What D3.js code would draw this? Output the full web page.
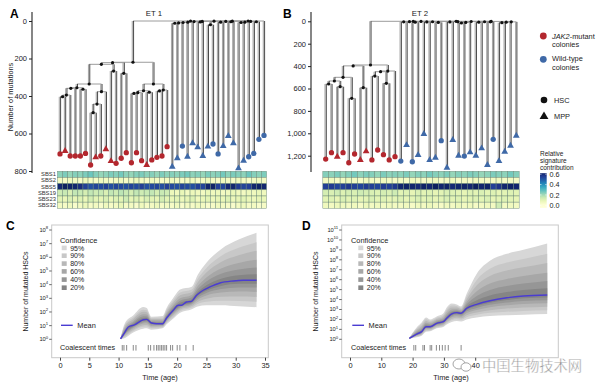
<!DOCTYPE html>
<html><head><meta charset="utf-8">
<script src="https://cdn.jsdelivr.net/npm/d3@7"></script>
<style>body{margin:0;background:#fff}svg{display:block;font-family:"Liberation Sans",Arial,Helvetica,sans-serif}</style>
</head><body><svg id="c" width="601" height="391"></svg>
<script>
// ---------------- DATA ----------------
// Tree ET1: internal nodes [id, parent, number of mutations]
const treeA_internal = [
 ["r",null,0],["J","r",220],["bR","r",0],
 ["A1","J",222],["B","J",336],
 ["A2","A1",231],["n1213","A1",279],
 ["C","A2",336],["n1011","A2",267],
 ["L","C",356],["R","C",377],
 ["L1","L",359],["L2","L",364],
 ["L11","L1",395],["L111","L11",404],
 ["R1","R",443],["R11","R1",489],
 ["B1","B",372],["B2","B",368],
 ["B11","B1",382],["B111","B11",386],["B12","B1",380],
 ["B21","B2",373],
 ["q","bR",1],["l","q",1],["p","q",2],
 ["h","l",2],["k","l",2],
 ["f","h",3],["g","h",20],
 ["d","f",6],["e","f",5],
 ["c","d",8],["b","c",10],["a","b",12],
 ["i","k",6],["j","k",4],
 ["n","p",6],["m","n",8],["o","p",4]
];
const treeA_tipParent = [
 "L111","L111","L11","L1","L2","L2","R11","R11","R1","R","n1011","n1011","n1213","n1213",
 "B111","B111","B11","B12","B12","B21","B21","B2",
 "a","a","b","c","d","e","e","g","g","i","i","j","j","m","m","n","o","o","bR"];
const treeA_tipMut = [709,693,720,720,720,706,768,727,720,684,747,759,732,702,756,702,745,768,741,727,720,670,
 777,732,667,724,652,674,720,670,656,709,667,613,652,786,745,724,706,631,610];
const treeA_tipCell = ["HSC","MPP","HSC","HSC","HSC","HSC","HSC","MPP","HSC","MPP","MPP","HSC","HSC","HSC","HSC","HSC","HSC","MPP","HSC","HSC","HSC","HSC",
 "MPP","MPP","HSC","MPP","MPP","MPP","MPP","MPP","HSC","HSC","MPP","MPP","MPP","MPP","MPP","HSC","HSC","HSC","HSC"];
const treeA_nJAK2 = 22;

// Tree ET2
const treeB_internal = [
 ["r",null,0],["R0","r",390],["W","r",0],
 ["Lf","R0",398],["Rt","R0",444],
 ["LL","Lf",500],["n67","Lf",593],
 ["LL1","LL",533],["n45","LL",688],
 ["n01","LL1",560],["n23","LL1",584],
 ["Rt1","Rt",450],["n89","Rt1",489],["n1011","Rt1",554],
 ["g","W",1],["s","W",1],
 ["c","g",3],["f","g",4],
 ["a","c",5],["b","c",8],["d","f",6],["e","f",10],
 ["o","s",2],["rr","s",5],
 ["k","o",3],["n","o",4],
 ["h","k",6],["j","k",10],["i","j",15],
 ["l","n",8],["m","n",5],
 ["q","rr",8],["p","q",12]
];
const treeB_tipParent = [
 "n01","n01","n23","n23","n45","n45","n67","n67","n89","n89","n1011","n1011","Rt",
 "a","a","b","b","d","d","e","e","h","h","i","i","j","l","l","m","m","p","p","q","rr"];
const treeB_tipMut = [1230,1173,1209,1173,1263,1185,1238,1161,1238,1149,1191,1238,1209,
 1248,1105,1254,1194,1006,1239,1218,1066,1307,1060,1200,1203,1170,1200,1134,1283,1054,1248,1164,1111,1022];
const treeB_tipCell = ["HSC","HSC","MPP","HSC","HSC","HSC","MPP","MPP","HSC","HSC","HSC","HSC","HSC",
 "HSC","MPP","HSC","MPP","MPP","MPP","MPP","HSC","MPP","MPP","MPP","HSC","MPP","MPP","MPP","MPP","HSC","MPP","MPP","MPP","MPP"];
const treeB_nJAK2 = 13;

// Signature heatmaps (relative contribution per colony)
const sigNames = ["SBS1","SBS2","SBS5","SBS19","SBS23","SBS32"];
const sigA_SBS1 = [0.23,0.25,0.22,0.24,0.23,0.25,0.27,0.24,0.22,0.23,0.25,0.24,0.26,0.23,0.22,0.24,0.25,0.23,0.24,0.22,0.25,0.23,0.24,0.23,0.25,0.26,0.23,0.24,0.22,0.25,0.23,0.24,0.26,0.23,0.25,0.24,0.23,0.27,0.24,0.23,0.25];
const sigA_SBS2 = [0.05,0.04,0.06,0.05,0.04,0.07,0.05,0.04,0.06,0.05,0.04,0.05,0.06,0.04,0.05,0.07,0.05,0.04,0.06,0.05,0.04,0.05,0.06,0.05,0.04,0.05,0.06,0.04,0.05,0.07,0.05,0.04,0.06,0.05,0.04,0.06,0.05,0.04,0.05,0.06,0.05];
const sigA_SBS5 = [0.62,0.64,0.63,0.62,0.60,0.55,0.52,0.54,0.53,0.55,0.52,0.54,0.53,0.52,0.54,0.53,0.55,0.52,0.53,0.54,0.52,0.55,0.53,0.52,0.54,0.53,0.52,0.55,0.54,0.62,0.63,0.55,0.54,0.61,0.62,0.56,0.54,0.55,0.62,0.63,0.62];
const sigA_SBS19 = [0.14,0.15,0.12,0.16,0.15,0.13,0.16,0.14,0.15,0.12,0.16,0.14,0.17,0.15,0.13,0.16,0.14,0.15,0.16,0.13,0.15,0.14,0.07,0.06,0.08,0.05,0.07,0.06,0.05,0.08,0.06,0.07,0.05,0.06,0.08,0.06,0.05,0.07,0.06,0.08,0.06];
const sigA_SBS23 = [0.10,0.08,0.12,0.09,0.11,0.08,0.13,0.10,0.09,0.12,0.08,0.11,0.10,0.14,0.09,0.11,0.08,0.12,0.10,0.09,0.13,0.10,0.08,0.10,0.07,0.09,0.11,0.06,0.08,0.10,0.07,0.09,0.08,0.11,0.07,0.09,0.10,0.08,0.07,0.09,0.08];
const sigA_SBS32 = [0.05,0.04,0.06,0.03,0.05,0.07,0.04,0.05,0.03,0.06,0.04,0.05,0.08,0.04,0.05,0.03,0.06,0.04,0.05,0.07,0.04,0.05,0.04,0.06,0.03,0.05,0.04,0.06,0.05,0.03,0.04,0.06,0.05,0.04,0.03,0.05,0.06,0.04,0.05,0.03,0.04];
const sigB_SBS1 = [0.24,0.23,0.25,0.22,0.24,0.26,0.23,0.25,0.24,0.22,0.25,0.23,0.24,0.23,0.25,0.22,0.24,0.23,0.26,0.24,0.23,0.25,0.22,0.24,0.23,0.25,0.24,0.22,0.23,0.25,0.24,0.23,0.26,0.24];
const sigB_SBS2 = [0.05,0.06,0.04,0.05,0.07,0.05,0.04,0.06,0.05,0.04,0.06,0.05,0.04,0.05,0.04,0.06,0.05,0.04,0.05,0.06,0.04,0.05,0.06,0.04,0.05,0.04,0.06,0.05,0.04,0.05,0.06,0.04,0.05,0.04];
const sigB_SBS5 = [0.55,0.56,0.54,0.55,0.57,0.55,0.54,0.56,0.55,0.54,0.56,0.55,0.57,0.62,0.63,0.62,0.61,0.63,0.62,0.64,0.62,0.63,0.61,0.62,0.63,0.62,0.64,0.62,0.63,0.55,0.58,0.62,0.63,0.62];
const sigB_SBS19 = [0.13,0.12,0.14,0.11,0.13,0.12,0.14,0.13,0.12,0.11,0.13,0.12,0.14,0.10,0.11,0.09,0.12,0.10,0.11,0.09,0.10,0.12,0.11,0.10,0.09,0.11,0.10,0.12,0.10,0.11,0.09,0.10,0.11,0.10];
const sigB_SBS23 = [0.10,0.11,0.09,0.12,0.10,0.11,0.09,0.10,0.12,0.10,0.11,0.09,0.10,0.11,0.09,0.10,0.12,0.10,0.11,0.09,0.10,0.12,0.10,0.11,0.09,0.10,0.11,0.10,0.12,0.09,0.10,0.11,0.10,0.09];
const sigB_SBS32 = [0.06,0.05,0.07,0.06,0.05,0.06,0.04,0.07,0.05,0.06,0.05,0.06,0.05,0.05,0.06,0.04,0.06,0.05,0.07,0.05,0.04,0.06,0.05,0.07,0.05,0.06,0.04,0.05,0.06,0.05,0.14,0.05,0.06,0.05];
const legendTicks = [0.0,0.2,0.4,0.6];

// Panel C (ET1) — log10 number of mutated HSCs vs age
const C_meanTime = [10.35,11.09,11.66,12.8,14.22,14.8,15.64,16.49,17.52,18.2,19.33,20.18,20.76,21.6,22.46,23.31,24.45,25.59,27.3,29.57,31.27,33.55];
const C_meanLog = [0.04,0.53,0.9,1.07,1.43,1.46,1.19,1.14,1.14,1.56,2.12,2.49,2.49,2.73,2.78,3.22,3.59,3.83,4.12,4.27,4.32,4.32];
const C_bandTime = [10.35,11.1,12.5,14.2,14.8,15.6,17.5,18.2,19.3,20.5,22.5,23.5,25,27.5,30.5,33.55];
const C_u95 = [0.1,1.2,1.75,2.36,2.3,1.65,1.7,2.3,3.0,3.65,3.85,4.7,5.6,6.6,7.3,7.8];
const C_l95 = [0.0,0.1,0.5,0.78,0.8,0.7,0.8,1.1,1.5,1.95,2.2,2.4,2.5,2.5,2.42,2.35];
const C_u90 = [0.09,1.07,1.6,2.17,2.13,1.56,1.59,2.15,2.82,3.42,3.64,4.42,5.22,6.1,6.7,7.1];
const C_l90 = [0.01,0.19,0.6,0.91,0.93,0.8,0.87,1.19,1.62,2.06,2.32,2.58,2.74,2.82,2.8,2.74];
const C_u80 = [0.08,0.95,1.47,2.01,1.98,1.48,1.49,2.02,2.67,3.22,3.45,4.16,4.89,5.66,6.16,6.48];
const C_l80 = [0.02,0.26,0.7,1.03,1.05,0.89,0.93,1.27,1.74,2.17,2.43,2.73,2.96,3.12,3.13,3.1];
const C_u60 = [0.07,0.82,1.33,1.83,1.82,1.39,1.38,1.88,2.5,3.01,3.25,3.89,4.53,5.19,5.59,5.82];
const C_l60 = [0.02,0.35,0.8,1.15,1.18,0.98,0.99,1.36,1.85,2.27,2.54,2.9,3.2,3.42,3.49,3.47];
const C_u40 = [0.06,0.71,1.22,1.68,1.69,1.31,1.29,1.76,2.36,2.83,3.08,3.66,4.23,4.79,5.11,5.26];
const C_l40 = [0.03,0.41,0.88,1.25,1.28,1.06,1.05,1.44,1.95,2.37,2.64,3.04,3.39,3.68,3.79,3.79];
const C_u20 = [0.05,0.62,1.11,1.55,1.57,1.25,1.21,1.66,2.23,2.67,2.94,3.46,3.96,4.44,4.69,4.77];
const C_l20 = [0.04,0.47,0.95,1.35,1.37,1.13,1.1,1.5,2.04,2.45,2.72,3.17,3.56,3.91,4.06,4.06];
const C_coalescent = [10.63,10.92,11.38,12.51,12.97,15.07,15.47,16.04,16.49,16.77,17.06,17.35,17.62,17.91,18.2,18.88,19.23,20.01,20.47,21.5,22.74];
const C_xTicks = [0,5,10,15,20,25,30,35];
const C_yTicks = [0,1,2,3,4,5,6,7,8];

// Panel D (ET2)
const D_time = [18.95,21.3,22.9,24.3,25.6,27.7,29.8,30.9,32.5,34.1,35.5,37.3,40.5,44.7,50.1,55.4,63.0];
const D_meanLog = [0.1,0.53,0.77,1.27,1.27,1.61,1.77,2.11,2.55,2.68,2.62,3.12,3.52,3.88,4.18,4.36,4.46];
const D_u95 = [0.15,1.2,1.7,2.2,2.0,2.3,2.6,3.2,3.6,3.5,3.3,4.6,6.6,7.9,8.6,9.0,9.65];
const D_l95 = [0.05,0.2,0.35,0.75,0.8,1.1,1.25,1.5,1.75,1.85,1.8,2.0,2.2,2.35,2.42,2.48,2.55];
const D_u90 = [0.14,1.07,1.51,2.01,1.85,2.16,2.43,2.98,3.39,3.34,3.16,4.3,5.98,7.1,7.72,8.07,8.61];
const D_l90 = [0.06,0.27,0.43,0.85,0.89,1.2,1.35,1.62,1.91,2.02,1.96,2.22,2.46,2.66,2.77,2.86,2.93];
const D_u80 = [0.13,0.95,1.35,1.85,1.72,2.04,2.28,2.79,3.2,3.19,3.04,4.04,5.43,6.37,6.92,7.24,7.68];
const D_l80 = [0.07,0.33,0.51,0.95,0.98,1.29,1.45,1.73,2.05,2.17,2.11,2.43,2.7,2.93,3.09,3.19,3.28];
const D_u60 = [0.12,0.82,1.17,1.67,1.58,1.91,2.13,2.58,3.0,3.03,2.91,3.76,4.84,5.61,6.08,6.36,6.69];
const D_l60 = [0.08,0.39,0.59,1.05,1.07,1.39,1.55,1.85,2.21,2.32,2.27,2.64,2.95,3.22,3.42,3.55,3.64];
const D_u40 = [0.11,0.71,1.02,1.52,1.47,1.8,1.99,2.4,2.83,2.9,2.8,3.52,4.35,4.97,5.37,5.61,5.86];
const D_l40 = [0.09,0.44,0.66,1.13,1.14,1.47,1.63,1.95,2.33,2.46,2.4,2.82,3.16,3.47,3.7,3.85,3.94];
const D_u20 = [0.11,0.62,0.89,1.39,1.36,1.7,1.88,2.25,2.69,2.79,2.71,3.31,3.92,4.4,4.75,4.96,5.13];
const D_l20 = [0.09,0.49,0.72,1.2,1.21,1.54,1.7,2.03,2.45,2.57,2.51,2.97,3.35,3.68,3.95,4.12,4.21];
const D_coalescent = [20.4,21.0,23.3,23.8,25.6,26.1,27.6,28.6,29.5,30.4,31.4,35.5];
const D_xTicks = [0,10,20,30,40];
const D_yTicks = [0,1,2,3,4,5,6,7,8,9,10,11];

const confLevels = ["95%","90%","80%","60%","40%","20%"];
const confColors = ["#d7d7d7","#c8c8c8","#b8b8b8","#a7a7a7","#969696","#858585"];

// ---------------- DRAW ----------------
const svg = d3.select("#c");
const RED = "#b3272e", BLUE = "#3f69a7", TXT = "#222";
const heatColor = d3.scaleSequential(d3.interpolateYlGnBu).domain([0, 0.65]);

function txt(g, x, y, s, size, opts = {}) {
  const t = g.append("text").attr("x", x).attr("y", y).attr("font-size", size)
    .attr("fill", opts.fill || TXT).text(s);
  if (opts.anchor) t.attr("text-anchor", opts.anchor);
  if (opts.weight) t.attr("font-weight", opts.weight);
  return t;
}

function drawTree(internal, tipParent, tipMut, tipCell, nRed, x, y) {
  const g = svg.append("g");
  const nodes = new Map();
  internal.forEach(([id, p, m]) => nodes.set(id, {id, parent: p, mut: m, children: [], tip: false}));
  tipParent.forEach((p, i) => nodes.set("t" + i, {id: "t" + i, parent: p, mut: tipMut[i], children: [], tip: true, i, cell: tipCell[i], red: i < nRed}));
  nodes.forEach(n => { if (n.parent != null) nodes.get(n.parent).children.push(n); });
  const root = [...nodes.values()].find(n => n.parent == null);
  (function px(n) {
    if (n.tip) return n.x = x(n.i);
    const xs = n.children.map(px);
    return n.x = (d3.min(xs) + d3.max(xs)) / 2;
  })(root);
  const all = [...nodes.values()];
  const inner = all.filter(n => !n.tip);
  g.selectAll(".h").data(inner).join("line")
    .attr("x1", n => d3.min(n.children, c => c.x)).attr("x2", n => d3.max(n.children, c => c.x))
    .attr("y1", n => y(n.mut)).attr("y2", n => y(n.mut))
    .attr("stroke", "#9c9c9c").attr("stroke-width", 1);
  const br = all.filter(n => n.parent != null);
  g.selectAll(".vg").data(br).join("line")
    .attr("x1", n => n.x - 0.7).attr("x2", n => n.x - 0.7)
    .attr("y1", n => y(nodes.get(n.parent).mut)).attr("y2", n => y(n.mut))
    .attr("stroke", "#a9a9a9").attr("stroke-width", 1.1);
  g.selectAll(".vb").data(br).join("line")
    .attr("x1", n => n.x + 0.6).attr("x2", n => n.x + 0.6)
    .attr("y1", n => y(nodes.get(n.parent).mut)).attr("y2", n => y(n.mut))
    .attr("stroke", "#1c1c1c").attr("stroke-width", 0.8);
  g.selectAll(".dot").data(inner).join("circle")
    .attr("cx", n => n.x).attr("cy", n => y(n.mut)).attr("r", 1.6).attr("fill", "#111");
  const tips = all.filter(n => n.tip);
  g.selectAll(".tip").data(tips).join("path")
    .attr("transform", n => `translate(${n.x},${y(n.mut)})`)
    .attr("d", n => n.cell === "HSC" ? d3.symbol(d3.symbolCircle, 22)() : d3.symbol(d3.symbolTriangle, 20)())
    .attr("fill", n => n.red ? RED : BLUE);
}

function drawHeat(rows, x, step, y0, rowH, labels) {
  const g = svg.append("g");
  rows.forEach((vals, r) => {
    g.selectAll(null).data(vals).join("rect")
      .attr("x", (v, i) => x(i) - step / 2).attr("y", y0 + r * rowH)
      .attr("width", step).attr("height", rowH)
      .attr("fill", v => heatColor(v)).attr("stroke", "#6a8876").attr("stroke-width", 0.45);
    if (labels) txt(g, x(0) - step / 2 - 1.5, y0 + r * rowH + rowH - 1.3, sigNames[r], 5.8, {anchor: "end", fill: "#333"});
  });
}

function treeAxis(x, y, ticks, top, bottom) {
  const g = svg.append("g").attr("transform", `translate(${x},0)`);
  g.call(d3.axisLeft(y).tickValues(ticks).tickSize(3).tickPadding(2));
  g.select(".domain").remove();
  g.append("line").attr("x1", 0).attr("x2", 0).attr("y1", top).attr("y2", bottom).attr("stroke", "#222").attr("stroke-width", 1.1);
  g.selectAll(".tick line").attr("stroke", "#222");
  g.selectAll(".tick text").attr("font-size", 7.5).attr("fill", TXT).attr("font-family", null);
}

// Panel A
const xA = d3.scaleLinear().domain([0, 40]).range([60, 264]);
const yA = d3.scaleLinear().domain([0, 800]).range([21, 171]);
treeAxis(32, yA, [0, 200, 400, 600, 800], 12, 173);
txt(svg, 10, 18, "A", 12, {weight: "bold", fill: "#000"});
txt(svg, 154, 15.5, "ET 1", 7.8, {anchor: "middle"});
svg.append("text").attr("transform", "translate(12.5,97) rotate(-90)").attr("text-anchor", "middle")
  .attr("font-size", 7.4).attr("fill", TXT).text("Number of mutations");
drawHeat([sigA_SBS1, sigA_SBS2, sigA_SBS5, sigA_SBS19, sigA_SBS23, sigA_SBS32], xA, 5.1, 171.3, 6.17, true);
drawTree(treeA_internal, treeA_tipParent, treeA_tipMut, treeA_tipCell, treeA_nJAK2, xA, yA);

// Panel B
const xB = d3.scaleLinear().domain([0, 33]).range([325.7, 516.3]);
const yB = d3.scaleLinear().domain([0, 1200]).range([21.3, 155.7]);
treeAxis(311, yB, [0, 200, 400, 600, 800, 1000, 1200], 12, 172);
txt(svg, 283, 18, "B", 12, {weight: "bold", fill: "#000"});
txt(svg, 420, 15.5, "ET 2", 7.8, {anchor: "middle"});
drawHeat([sigB_SBS1, sigB_SBS2, sigB_SBS5, sigB_SBS19, sigB_SBS23, sigB_SBS32], xB, 5.775, 171.3, 6.17, false);
drawTree(treeB_internal, treeB_tipParent, treeB_tipMut, treeB_tipCell, treeB_nJAK2, xB, yB);

// Legend (genotype, cell type, colour bar)
{
  const g = svg.append("g");
  g.append("circle").attr("cx", 543.3).attr("cy", 36).attr("r", 3.4).attr("fill", RED);
  const t1 = g.append("text").attr("x", 552).attr("y", 38.6).attr("font-size", 7.4).attr("fill", TXT);
  t1.append("tspan").attr("font-style", "italic").text("JAK2");
  t1.append("tspan").text("-mutant");
  txt(g, 552, 47, "colonies", 7.4);
  g.append("circle").attr("cx", 543.3).attr("cy", 59.3).attr("r", 3.4).attr("fill", BLUE);
  txt(g, 552, 60.8, "Wild-type", 7.4);
  txt(g, 552, 69.8, "colonies", 7.4);
  g.append("circle").attr("cx", 544).attr("cy", 100).attr("r", 3.3).attr("fill", "#111");
  txt(g, 554, 102.6, "HSC", 7.4);
  g.append("path").attr("transform", "translate(544,116.5)").attr("d", d3.symbol(d3.symbolTriangle, 34)()).attr("fill", "#111");
  txt(g, 554, 118.8, "MPP", 7.4);
  txt(g, 540, 156.4, "Relative", 6.5);
  txt(g, 540, 163.0, "signature", 6.5);
  txt(g, 540, 169.6, "contribution", 6.5);
  const ly = d3.scaleLinear().domain([0, 0.6]).range([205.3, 174.2]);
  const grad = svg.append("defs").append("linearGradient").attr("id", "gbar")
    .attr("x1", 0).attr("y1", 1).attr("x2", 0).attr("y2", 0);
  d3.range(0, 11).forEach(k => {
    const v = -0.05 + k * 0.067;
    grad.append("stop").attr("offset", k / 10).attr("stop-color", heatColor(Math.max(0, v)));
  });
  g.append("rect").attr("x", 540).attr("y", ly(0.62)).attr("width", 6.7).attr("height", ly(-0.05) - ly(0.62)).attr("fill", "url(#gbar)");
  legendTicks.forEach(v => {
    g.append("line").attr("x1", 540).attr("x2", 541.5).attr("y1", ly(v)).attr("y2", ly(v)).attr("stroke", "#fff").attr("stroke-width", 0.6);
    g.append("line").attr("x1", 545.2).attr("x2", 546.7).attr("y1", ly(v)).attr("y2", ly(v)).attr("stroke", "#fff").attr("stroke-width", 0.6);
    txt(g, 549.5, ly(v) + 2.6, v.toFixed(1), 7.2);
  });
}

// Panels C and D
function drawCurve(o) {
  const g = svg.append("g");
  g.append("rect").attr("x", o.box[0]).attr("y", o.box[2]).attr("width", o.box[1] - o.box[0]).attr("height", o.box[3] - o.box[2])
    .attr("fill", "#fff").attr("stroke", "#c9c9c9").attr("stroke-width", 1);
  const x = o.x, y = o.y;
  o.bands.forEach((b, k) => {
    const area = d3.area().x((d, i) => x(o.bandTime[i])).y0((d, i) => y(b[0][i])).y1((d, i) => y(b[1][i])).curve(d3.curveMonotoneX);
    g.append("path").attr("d", area(o.bandTime)).attr("fill", confColors[k]);
  });
  const line = d3.line().x((d, i) => x(o.meanTime[i])).y(d => y(d)).curve(d3.curveMonotoneX);
  g.append("path").attr("d", line(o.meanLog)).attr("fill", "none").attr("stroke", "#4a3cd2").attr("stroke-width", 1.4);
  const ax = g.append("g").attr("transform", `translate(0,${o.box[3]})`)
    .call(d3.axisBottom(x).tickValues(o.xTicks).tickSize(3).tickPadding(2.5));
  ax.select(".domain").remove();
  ax.selectAll(".tick line").attr("stroke", "#444");
  ax.selectAll(".tick text").attr("font-size", 7.4).attr("fill", TXT).attr("font-family", null);
  o.yTicks.forEach(k => {
    g.append("line").attr("x1", o.box[0] - 2.5).attr("x2", o.box[0]).attr("y1", y(k)).attr("y2", y(k)).attr("stroke", "#444").attr("stroke-width", 0.8);
    const t = g.append("text").attr("x", o.box[0] - 3.5).attr("y", y(k) + 2).attr("text-anchor", "end").attr("font-size", 5.8).attr("fill", TXT);
    t.append("tspan").text("10");
    t.append("tspan").attr("dy", -2.6).attr("font-size", 4.2).text(k);
  });
  txt(g, o.titleX, 380, "Time (age)", 7.4, {anchor: "middle"});
  g.append("text").attr("transform", `translate(${o.box[0] - 23.5},291.5) rotate(-90)`).attr("text-anchor", "middle")
    .attr("font-size", 7).attr("fill", TXT).text("Number of mutated HSCs");
  txt(g, o.letterX, 229.5, o.letter, 12, {weight: "bold", fill: "#000"});
  txt(g, o.legX, 242.5, "Confidence", 7.4);
  const ey = [250.6, 258.4, 266.3, 274.1, 282.3, 290.4];
  confLevels.forEach((lab, k) => {
    g.append("rect").attr("x", o.sqX).attr("y", ey[k] - 5).attr("width", 5).attr("height", 4.6).attr("fill", confColors[k]);
    txt(g, o.sqX + 8.5, ey[k], lab, 7);
  });
  g.append("line").attr("x1", o.meanX).attr("x2", o.meanX + 11.7).attr("y1", 325.3).attr("y2", 325.3).attr("stroke", "#4a3cd2").attr("stroke-width", 1.4);
  txt(g, o.meanX + 16.3, 327.8, "Mean", 7.4);
  txt(g, o.legX, 350, "Coalescent times", 7.2);
  g.selectAll(null).data(o.coal).join("line")
    .attr("x1", d => x(d)).attr("x2", d => x(d)).attr("y1", 345).attr("y2", 350.6)
    .attr("stroke", "#555").attr("stroke-width", 0.7);
}

drawCurve({
  box: [51.7, 268.3, 225, 357.7],
  x: d3.scaleLinear().domain([0, 35]).range([60, 265]),
  y: d3.scaleLinear().domain([0, 8]).range([339.3, 230]),
  bandTime: C_bandTime,
  bands: [[C_l95, C_u95], [C_l90, C_u90], [C_l80, C_u80], [C_l60, C_u60], [C_l40, C_u40], [C_l20, C_u20]],
  meanTime: C_meanTime, meanLog: C_meanLog, coal: C_coalescent,
  xTicks: C_xTicks, yTicks: C_yTicks,
  titleX: 160, letter: "C", letterX: 6, legX: 60, sqX: 61.7, meanX: 61
});
drawCurve({
  box: [341.7, 558.3, 225, 357.7],
  x: d3.scaleLinear().domain([0, 10]).range([350, 381.3]),
  y: d3.scaleLinear().domain([0, 11]).range([339.3, 230]),
  bandTime: D_time,
  bands: [[D_l95, D_u95], [D_l90, D_u90], [D_l80, D_u80], [D_l60, D_u60], [D_l40, D_u40], [D_l20, D_u20]],
  meanTime: D_time, meanLog: D_meanLog, coal: D_coalescent,
  xTicks: D_xTicks, yTicks: D_yTicks,
  titleX: 451, letter: "D", letterX: 302, legX: 351, sqX: 358.3, meanX: 352.3
});

// watermark overlay (as in the source image)
{
  const g = svg.append("g");
  g.append("rect").attr("x", 481).attr("y", 359.5).attr("width", 106).attr("height", 13).attr("fill", "#fff").attr("opacity", 0.9);
  g.append("ellipse").attr("cx", 459).attr("cy", 364).attr("rx", 6).attr("ry", 5).attr("fill", "#fff").attr("stroke", "#9a9a9a").attr("stroke-width", 0.9);
  g.append("ellipse").attr("cx", 466).attr("cy", 367).attr("rx", 5).attr("ry", 4.2).attr("fill", "#fff").attr("stroke", "#9a9a9a").attr("stroke-width", 0.9);
  g.append("text").attr("x", 482).attr("y", 370.5).attr("font-size", 14.3).attr("fill", "#8c8c8c")
    .attr("font-family", "'Noto Sans CJK SC', sans-serif").attr("stroke", "#fff").attr("stroke-width", 0.4).text("中国生物技术网");
}
</script></body></html>
